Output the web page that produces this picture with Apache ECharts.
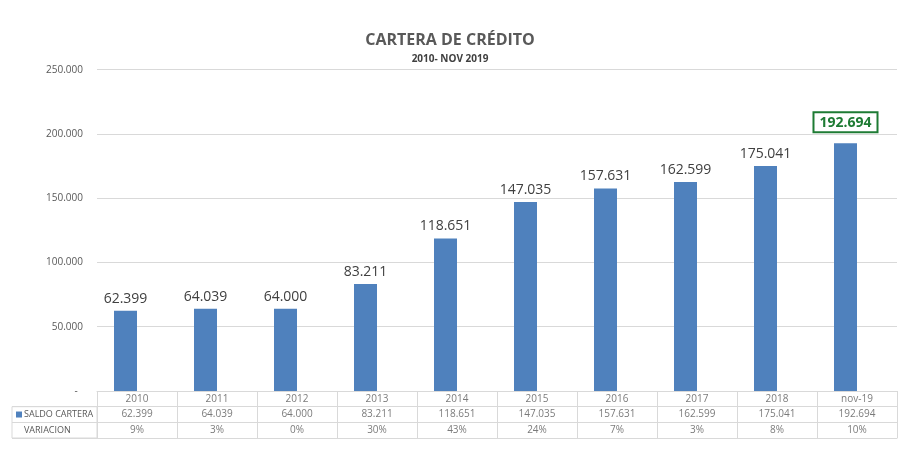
<!DOCTYPE html>
<html>
<head>
<meta charset="utf-8">
<script src="https://cdn.jsdelivr.net/npm/echarts@6/dist/echarts.min.js"></script>
<style>
  html, body { margin: 0; padding: 0; background: #fff; }
  #chart { width: 900px; height: 460px; }
</style>
</head>
<body>
<div id="chart"></div>
<script>
var categories = ['2010', '2011', '2012', '2013', '2014', '2015', '2016', '2017', '2018', 'nov-19'];
var saldoCartera = [62399, 64039, 64000, 83211, 118651, 147035, 157631, 162599, 175041, 192694];
var variacion = [9, 3, 0, 30, 43, 24, 7, 3, 8, 10];   // %
var rowNames = ['SALDO CARTERA', 'VARIACION'];

var FONT = '"Open Sans", "Noto Sans", sans-serif';
var GRAY = '#595959';
var LINE = '#d9d9d9';
var BLUE = '#4f81bd';
var GREEN = '#1e7b34';

// 62399 -> "62.399"
function fmt(v) {
    return String(v).replace(/\B(?=(\d{3})+(?!\d))/g, '.');
}

// celdas de la tabla de datos: [columna, fila, texto]
var tableCells = [];
categories.forEach(function (c, i) {
    tableCells.push([i, 0, c]);
    tableCells.push([i, 1, fmt(saldoCartera[i])]);
    tableCells.push([i, 2, variacion[i] + '%']);
});

var last = saldoCartera.length - 1;
var saldoData = saldoCartera.map(function (v, i) {
    if (i !== last) return v;
    return {
        value: v,
        label: {
            color: GREEN,
            fontWeight: 'bold',
            fontSize: 14,
            borderColor: GREEN,
            borderWidth: 2,
            padding: [4, 6, 2, 6],
            distance: 11
        }
    };
});

var myChart = echarts.init(document.getElementById('chart'));
var option = {
    animation: false,
    textStyle: { fontFamily: FONT },
    title: {
        text: 'CARTERA DE CRÉDITO',
        subtext: '2010- NOV 2019',
        left: 'center',
        top: 27,
        itemGap: 6,
        textStyle: { fontSize: 16, fontWeight: 'bold', color: GRAY, fontFamily: FONT },
        subtextStyle: { fontSize: 10, fontWeight: 'bold', color: '#404040', fontFamily: FONT }
    },
    grid: [
        { left: 97, right: 3, top: 69.7, bottom: 69 },
        { left: 97, right: 3, top: 391, height: 47 },
        { left: 12, width: 85, top: 406.7, height: 31.3, show: true, borderColor: LINE, borderWidth: 1 }
    ],
    xAxis: [
        {
            type: 'category', gridIndex: 0, data: categories,
            axisLine: { lineStyle: { color: LINE } },
            axisTick: { show: false },
            axisLabel: { show: false }
        },
        {
            type: 'category', gridIndex: 1, data: categories,
            axisLine: { lineStyle: { color: LINE } },
            axisTick: { show: false },
            axisLabel: { show: false },
            splitLine: { show: true, lineStyle: { color: LINE } }
        },
        { type: 'value', gridIndex: 2, show: false }
    ],
    yAxis: [
        {
            type: 'value', gridIndex: 0, min: 0, max: 250000, interval: 50000,
            axisLine: { show: false },
            axisTick: { show: false },
            axisLabel: {
                color: GRAY, fontSize: 10, margin: 14,
                formatter: function (v) { return v === 0 ? '-  ' : fmt(v); }
            },
            splitLine: { lineStyle: { color: LINE } }
        },
        {
            type: 'category', gridIndex: 1, data: ['', 'SALDO', 'VAR'], inverse: true,
            axisLine: { show: false },
            axisTick: { show: false },
            axisLabel: { show: false },
            splitLine: { show: true, lineStyle: { color: LINE } }
        },
        {
            type: 'category', gridIndex: 2, data: rowNames, inverse: true,
            axisLine: { show: false },
            axisTick: { show: false },
            splitLine: { show: true, lineStyle: { color: LINE } },
            axisLabel: {
                inside: true, margin: 4, fontSize: 9, color: GRAY,
                formatter: function (v, i) {
                    return (i === 0 ? '{sq|}' : '{sp|}') + '{t|' + v + '}';
                },
                rich: {
                    sq: { width: 6, height: 6, backgroundColor: BLUE },
                    sp: { width: 6, height: 6 },
                    t: { fontSize: 9, color: GRAY, padding: [0, 0, 0, 2] }
                }
            }
        }
    ],
    series: [
        {
            name: 'SALDO CARTERA',
            type: 'bar',
            xAxisIndex: 0, yAxisIndex: 0,
            barWidth: 23,
            barGap: '0%',
            itemStyle: { color: BLUE },
            label: {
                show: true,
                position: 'top',
                distance: 5,
                fontSize: 14,
                color: '#404040',
                formatter: function (p) { return fmt(p.value); }
            },
            data: saldoData
        },
        {
            name: 'VARIACION',
            type: 'bar',
            xAxisIndex: 0, yAxisIndex: 0,
            barWidth: 23,
            silent: true,
            itemStyle: { color: 'transparent' },
            data: variacion.map(function (v) { return v / 100; })
        },
        {
            name: 'tabla',
            type: 'scatter',
            xAxisIndex: 1, yAxisIndex: 1,
            symbolSize: 0,
            silent: true,
            label: {
                show: true,
                position: 'inside',
                fontSize: 10,
                color: GRAY,
                formatter: function (p) { return p.value[2]; }
            },
            data: tableCells
        }
    ]
};
myChart.setOption(option);
</script>
</body>
</html>
